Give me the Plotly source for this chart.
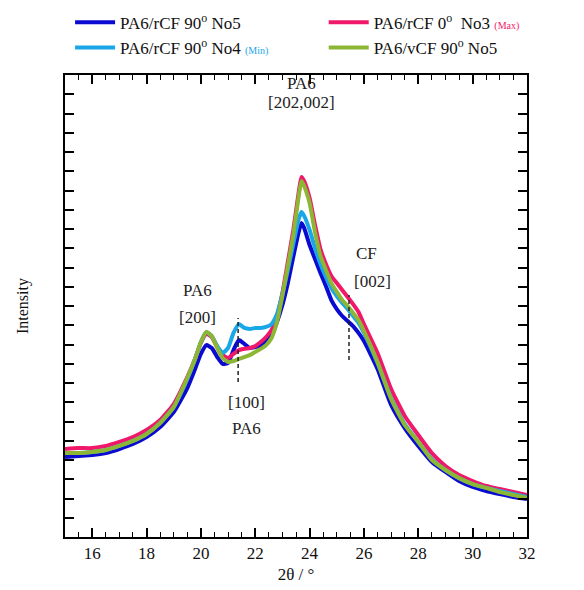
import plotly.graph_objects as go

# 2-theta grid (degrees)
two_theta = [15.0, 15.5, 16.0, 16.5, 17.0, 17.5, 18.0, 18.5, 19.0, 19.5, 19.8, 20.0, 20.2, 20.4,
             20.6, 20.8, 21.0, 21.2, 21.4, 21.6, 21.8, 22.0, 22.2, 22.4, 22.6, 22.8, 23.0, 23.2,
             23.4, 23.6, 23.7, 23.8, 24.0, 24.2, 24.4, 24.6, 24.8, 25.0, 25.2, 25.4, 25.6, 25.8,
             26.0, 26.5, 27.0, 27.5, 28.0, 28.5, 29.0, 29.5, 30.0, 30.5, 31.0, 31.5, 32.0]

# Intensity (a.u.)
rcf90_no5 = [4.16, 4.21, 4.26, 4.36, 4.57, 4.83, 5.19, 5.71, 6.49, 7.74, 8.78, 9.51, 9.97, 9.82,
             9.35, 8.99, 9.04, 9.71, 10.23, 10.03, 9.82, 9.87, 9.92, 10.18, 10.49, 11.17, 12.05, 13.19,
             14.55, 15.84, 16.31, 16.05, 15.17, 14.44, 13.71, 13.04, 12.31, 11.84, 11.48, 11.22, 10.96, 10.60,
             10.18, 8.73, 6.86, 5.66, 4.73, 3.90, 3.38, 2.91, 2.60, 2.39, 2.23, 2.08, 1.97]

rcf0_no3 = [4.57, 4.62, 4.62, 4.73, 4.94, 5.19, 5.56, 6.08, 6.91, 8.31, 9.30, 10.08, 10.55, 10.39,
            9.87, 9.45, 9.30, 9.51, 9.71, 9.78, 9.82, 9.92, 10.13, 10.39, 10.76, 11.48, 12.68, 14.29,
            15.95, 17.92, 18.70, 18.49, 17.61, 16.21, 14.96, 14.18, 13.56, 13.19, 12.83, 12.47, 12.10, 11.69,
            11.06, 9.56, 7.69, 6.29, 5.30, 4.36, 3.69, 3.22, 2.91, 2.65, 2.49, 2.34, 2.18]

rcf90_no4 = [4.36, 4.36, 4.42, 4.52, 4.73, 4.99, 5.35, 5.92, 6.75, 8.21, 9.30, 10.13, 10.65, 10.44,
             9.92, 9.56, 9.82, 10.60, 11.06, 10.86, 10.81, 10.86, 10.86, 10.91, 11.06, 11.58, 12.62, 13.87,
             15.22, 16.52, 16.88, 16.68, 15.95, 15.01, 14.18, 13.51, 12.94, 12.52, 12.16, 11.84, 11.48, 11.12,
             10.60, 9.04, 7.22, 5.87, 4.94, 4.05, 3.48, 3.06, 2.75, 2.55, 2.39, 2.23, 2.08]

vcf90_no5 = [4.36, 4.36, 4.42, 4.52, 4.73, 4.99, 5.35, 5.92, 6.75, 8.26, 9.30, 10.13, 10.65, 10.44,
             9.82, 9.30, 9.09, 9.14, 9.25, 9.35, 9.45, 9.61, 9.77, 9.97, 10.34, 11.17, 12.52, 14.08,
             15.69, 17.71, 18.49, 18.23, 17.35, 15.84, 14.60, 13.87, 13.19, 12.73, 12.31, 12.00, 11.64, 11.27,
             10.70, 9.09, 7.17, 5.82, 4.94, 4.00, 3.48, 3.06, 2.75, 2.55, 2.34, 2.18, 2.03]

series_names = [
    "PA6/rCF 90<sup>o</sup> No5",
    "PA6/rCF 0<sup>o</sup>  No3 <span style=\"font-size:10px;color:#f0186b\">(Max)</span>",
    "PA6/rCF 90<sup>o</sup> No4 <span style=\"font-size:10px;color:#1aa7e8\">(Min)</span>",
    "PA6/vCF 90<sup>o</sup> No5",
]
series_values = [rcf90_no5, rcf0_no3, rcf90_no4, vcf90_no5]
series_colors = ["#0a0ad0", "#f0186b", "#1aa7e8", "#8db634"]
series_legend = ["legend", "legend2", "legend", "legend2"]

# peak markers (dashed lines) : x, y_bottom, y_top
peak_lines = [(21.37, 8.05, 11.38), (25.45, 9.19, 12.57)]

# annotation labels: text, x, y
labels = [
    ("PA6", 23.69, 23.58), ("[202,002]", 23.69, 22.55),
    ("PA6", 19.86, 12.83), ("[200]", 19.86, 11.38),
    ("CF", 26.08, 14.75), ("[002]", 26.30, 13.25),
    ("[100]", 21.66, 7.01), ("PA6", 21.66, 5.66),
]

SERIF = "Liberation Serif, Times New Roman, serif"

fig = go.Figure()
for name, vals, col, lg in zip(series_names, series_values, series_colors, series_legend):
    fig.add_trace(go.Scatter(x=two_theta, y=vals, mode="lines", name=name, legend=lg,
                             line=dict(color=col, width=4, shape="spline", smoothing=0.5)))

for x0, y0, y1 in peak_lines:
    fig.add_trace(go.Scatter(x=[x0, x0], y=[y0, y1], mode="lines", showlegend=False,
                             line=dict(color="#222222", width=1.5, dash="4px,3px"), hoverinfo="skip"))

for txt, x, y in labels:
    fig.add_annotation(x=x, y=y, text=txt, showarrow=False,
                       font=dict(family=SERIF, size=17, color="#222222"))

legend_common = dict(orientation="v", yanchor="top", bgcolor="rgba(0,0,0,0)", itemwidth=40,
                     tracegroupgap=0, font=dict(family=SERIF, size=17, color="#111111"))

fig.update_layout(
    width=584, height=590,
    margin=dict(l=65, r=57, t=75, b=53, autoexpand=False),
    paper_bgcolor="white", plot_bgcolor="white",
    showlegend=True,
    legend=dict(x=0.011, xanchor="left", y=1.152, **legend_common),
    legend2=dict(x=0.56, xanchor="left", y=1.152, **legend_common),
    font=dict(family=SERIF, color="#111111"),
)

fig.update_xaxes(range=[15, 32], tick0=16, dtick=2, ticks="inside", ticklen=9, tickwidth=1.5,
                 tickcolor="black", showline=True, linecolor="black", linewidth=2, mirror="ticks",
                 showgrid=False, zeroline=False,
                 minor=dict(dtick=0.5, tick0=15, ticks="inside", ticklen=5, tickwidth=1.2, tickcolor="black"),
                 tickfont=dict(family=SERIF, size=17, color="#111111"),
                 title=dict(text="2θ / °", font=dict(family=SERIF, size=17, color="#111111"), standoff=6))
fig.update_yaxes(range=[0, 24], dtick=1, ticks="inside", ticklen=9, tickwidth=1.5, tickcolor="black",
                 showline=True, linecolor="black", linewidth=2, mirror="ticks",
                 showgrid=False, zeroline=False, showticklabels=False,
                 title=dict(text="Intensity", font=dict(family=SERIF, size=16, color="#111111"), standoff=30))

fig.write_html("out.html")
